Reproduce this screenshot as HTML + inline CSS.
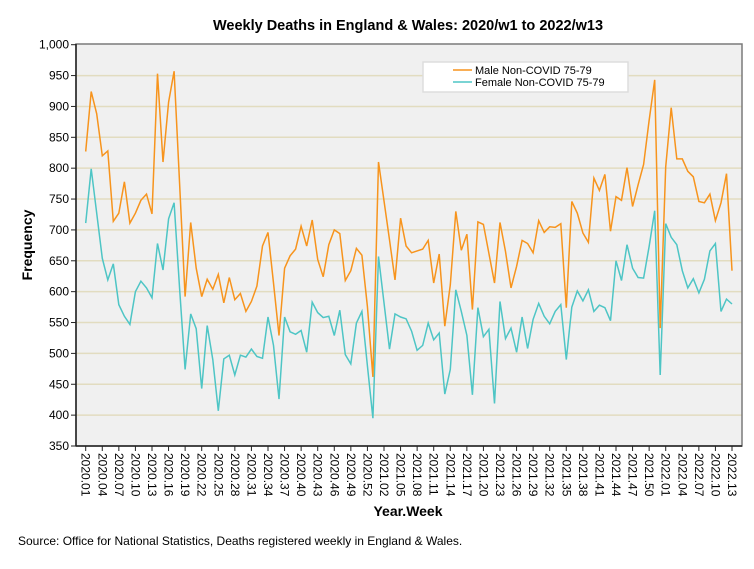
<!DOCTYPE html>
<html><head><meta charset="utf-8"><style>
body{margin:0;background:#fff;font-family:"Liberation Sans",sans-serif;}
svg text{font-family:"Liberation Sans",sans-serif;}
</style></head><body>
<svg id="chart" width="754" height="564" xmlns="http://www.w3.org/2000/svg">
<rect x="0" y="0" width="754" height="564" fill="#fff"/>
<text x="408" y="30" text-anchor="middle" font-size="14.5" font-weight="bold">Weekly Deaths in England &amp; Wales: 2020/w1 to 2022/w13</text>
<rect x="76" y="44" width="666" height="402" fill="#f0f0f0"/>
<g id="grid"></g>
<g id="series"></g>
<rect x="76" y="44" width="666" height="402" fill="none" stroke="#7a7a7a" stroke-width="1.5"/>
<line x1="76" y1="44" x2="76" y2="446" stroke="#222" stroke-width="1.5"/>
<line x1="76" y1="446" x2="742" y2="446" stroke="#222" stroke-width="1.5"/>
<g id="yticks"></g>
<g id="xticks"></g>
<text transform="translate(32,245) rotate(-90)" text-anchor="middle" font-size="14" font-weight="bold">Frequency</text>
<text x="408" y="516" text-anchor="middle" font-size="14" font-weight="bold">Year.Week</text>
<text x="18" y="545" font-size="12">Source: Office for National Statistics, Deaths registered weekly in England &amp; Wales.</text>
<g>
<rect x="423" y="62" width="205" height="30" fill="#fff" stroke="#ddd" stroke-width="1.5"/>
<line x1="453" y1="70" x2="472" y2="70" stroke="#f7941d" stroke-width="1.5"/>
<text x="475" y="74" font-size="11">Male Non-COVID 75-79</text>
<line x1="453" y1="82" x2="472" y2="82" stroke="#4ec5c5" stroke-width="1.5"/>
<text x="475" y="86" font-size="11">Female Non-COVID 75-79</text>
</g>
</svg>
<script>
const yearWeeks = [[2020,53],[2021,52],[2022,13]];
const yTicks = [350,400,450,500,550,600,650,700,750,800,850,900,950,1000];
const maleValues = [827,924,888,820,828,714,727,778,711,727,748,758,726,953,810,907,957,775,
592,712,638,592,620,604,628,582,623,587,597,568,584,609,674,696,614,529,638,658,669,706,
674,716,652,624,676,700,694,618,634,670,659,576,462,810,747,684,619,719,674,663,666,669,683,614,661,544,611,730,667,693,571,713,709,662,614,712,665,606,641,
683,678,663,715,696,705,704,710,574,746,727,695,680,784,764,790,698,754,748,801,738,773,806,877,943,541,802,898,815,815,795,786,746,744,758,715,744,791,634];
const femaleValues = [711,799,727,654,619,645,579,560,547,600,617,606,590,678,635,718,744,605,
474,564,540,443,545,490,407,491,497,465,497,494,507,495,492,559,513,426,559,535,531,537,
502,583,566,558,560,529,570,498,483,549,568,480,395,657,582,507,564,559,556,536,505,513,549,522,533,434,474,603,568,529,433,574,527,539,419,584,524,541,502,
559,508,555,581,560,548,568,579,490,575,601,585,603,568,578,574,553,650,618,676,638,623,622,673,731,465,710,688,676,634,606,621,598,620,666,678,568,588,580];
const categories = [];
yearWeeks.forEach(([y,n])=>{for(let w=1;w<=n;w++)categories.push(y+'.'+String(w).padStart(2,'0'));});

const NS='http://www.w3.org/2000/svg';
const X0=85.7, X1=732, Y0=446, Y1=44.7, VMIN=350, VMAX=1000;
const xs = i => X0 + (X1-X0)*i/(categories.length-1);
const ys = v => Y0 - (v-VMIN)/(VMAX-VMIN)*(Y0-Y1);
function mk(tag, attrs, parent){const e=document.createElementNS(NS,tag);for(const k in attrs)e.setAttribute(k,attrs[k]);parent.appendChild(e);return e;}
const grid=document.getElementById('grid'), yt=document.getElementById('yticks'), xt=document.getElementById('xticks'), ser=document.getElementById('series');
yTicks.forEach(v=>{
  const y=ys(v);
  if(v>VMIN&&v<VMAX){const g=mk('line',{x1:76,x2:742,y1:y,y2:y,stroke:'#e2dcc0','stroke-width':1.5},grid);
  
  }
  const t=mk('line',{x1:71,x2:76,y1:y,y2:y,stroke:'#222'},yt);
  
  
  const l=mk('text',{x:69,y:y+4,'text-anchor':'end','font-size':12},yt);
  l.textContent=v>=1000?'1,000':String(v);
  
  
});
categories.forEach((c,i)=>{
  if(i%3!==0)return;
  const x=xs(i);
  const t=mk('line',{x1:x,x2:x,y1:446,y2:451,stroke:'#222'},xt);
  
  
  const l=mk('text',{transform:`translate(${x-4},453) rotate(90)`,'font-size':12},xt);
  l.textContent=c;
  
  
});
function line(vals,color,name){
  const p=mk('polyline',{points:vals.map((v,i)=>xs(i).toFixed(1)+','+ys(v).toFixed(1)).join(' '),fill:'none',stroke:color,'stroke-width':1.5,'stroke-linejoin':'miter'},ser);
  
  
}
line(femaleValues,'#4ec5c5','female-series-line');
line(maleValues,'#f7941d','male-series-line');
</script>
</body></html>
